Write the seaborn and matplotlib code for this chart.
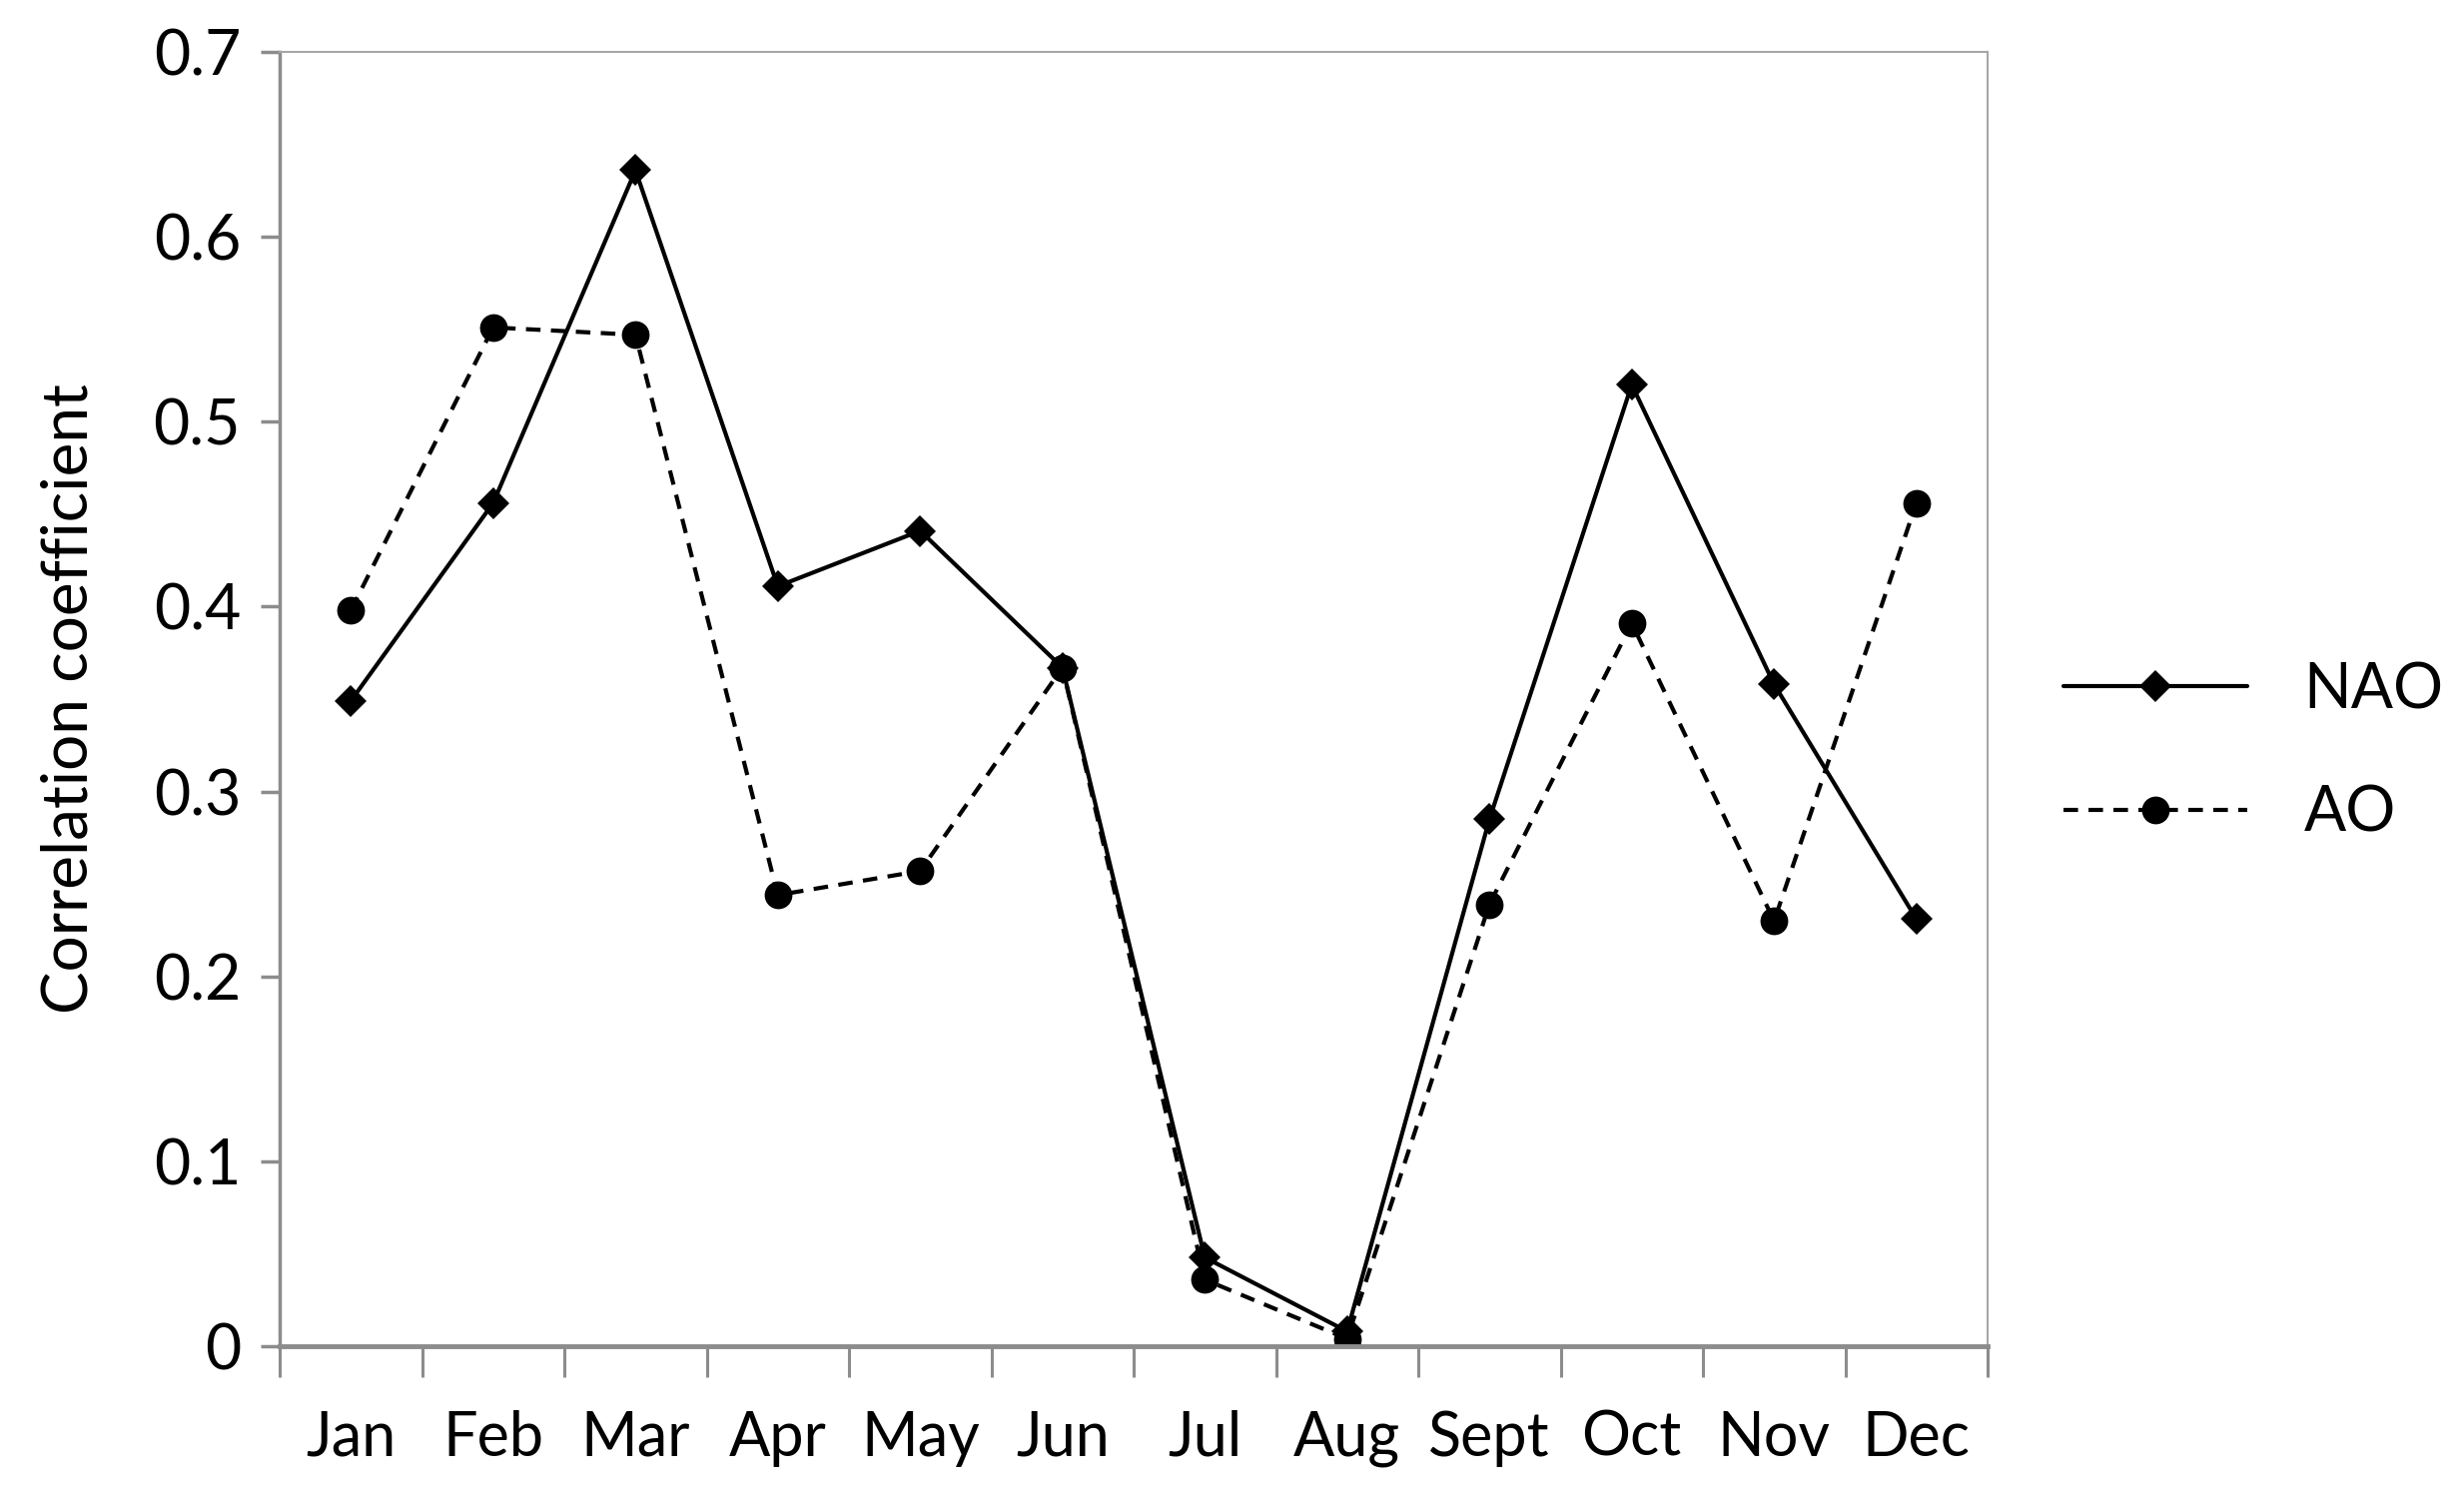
import seaborn as sns
import matplotlib.pyplot as plt
import pandas as pd

months = ['Jan', 'Feb', 'Mar', 'Apr', 'May', 'Jun', 'Jul', 'Aug', 'Sept', 'Oct', 'Nov', 'Dec']
nao = [0.349, 0.456, 0.636, 0.411, 0.441, 0.367, 0.048, 0.008, 0.285, 0.520, 0.358, 0.231]
ao = [0.398, 0.551, 0.547, 0.244, 0.257, 0.367, 0.036, 0.004, 0.239, 0.391, 0.230, 0.456]
series_names = ['NAO', 'AO']
y_ticks = [0, 0.1, 0.2, 0.3, 0.4, 0.5, 0.6, 0.7]

# long format for seaborn
df = pd.DataFrame({
    'month': months * 2,
    'r': nao + ao,
    'index': [series_names[0]] * len(months) + [series_names[1]] * len(months),
})

sns.set_style('white')
plt.rcParams['font.family'] = ['Lato', 'DejaVu Sans']
plt.rcParams['text.color'] = 'black'
plt.rcParams['axes.labelcolor'] = 'black'
plt.rcParams['xtick.color'] = 'black'
plt.rcParams['ytick.color'] = 'black'

fig = plt.figure(figsize=(24.67, 14.95), dpi=100)
ax = fig.add_axes([280 / 2467, 1 - 1348 / 1495, 1710 / 2467, 1296 / 1495])

sns.lineplot(data=df, x='month', y='r', style='index', sort=False,
             markers={'NAO': 'D', 'AO': 'o'},
             dashes={'NAO': '', 'AO': (3.5, 2.5)},
             color='black', linewidth=3.0, markersize=16,
             markeredgewidth=0, ax=ax)

# circles a bit bigger than diamonds
for line in ax.lines:
    if line.get_marker() == 'o':
        line.set_markersize(20)

ax.set_xlim(-0.5, len(months) - 0.5)
ax.set_ylim(0, 0.7)
ax.set_yticks(y_ticks)
ax.set_yticklabels(['0' if v == 0 else f'{v:.1f}' for v in y_ticks])

# boundaries as major ticks, labels on minor ticks at category centers
ax.set_xticks([i - 0.5 for i in range(len(months) + 1)])
ax.set_xticklabels([''] * (len(months) + 1))
ax.set_xticks(range(len(months)), minor=True)
ax.set_xticklabels(months, minor=True)

grey = '#8c8c8c'
ax.tick_params(axis='x', which='major', direction='out', length=22, width=2.2, color=grey, bottom=True)
ax.tick_params(axis='x', which='minor', length=0, pad=46, labelsize=44, bottom=True)
ax.tick_params(axis='y', direction='out', length=14, width=2.5, color=grey, left=True, pad=14, labelsize=45)

ax.spines['left'].set_color(grey)
ax.spines['left'].set_linewidth(2.5)
ax.spines['bottom'].set_color(grey)
ax.spines['bottom'].set_linewidth(3.5)
for s in ['top', 'right']:
    ax.spines[s].set_color('#a6a6a6')
    ax.spines[s].set_linewidth(1.5)

ax.set_xlabel('')
ax.set_ylabel('Correlation coefficient', fontsize=46, labelpad=40)

handles, labels = ax.get_legend_handles_labels()
ax.legend(handles, labels, loc='center left', frameon=False, fontsize=45,
          bbox_to_anchor=(2066 / 2467, 1 - 753 / 1495), bbox_transform=fig.transFigure,
          borderpad=0, borderaxespad=0, handlelength=2.95, handletextpad=0.9,
          labelspacing=1.05)

fig.savefig('out.png', dpi=100)
